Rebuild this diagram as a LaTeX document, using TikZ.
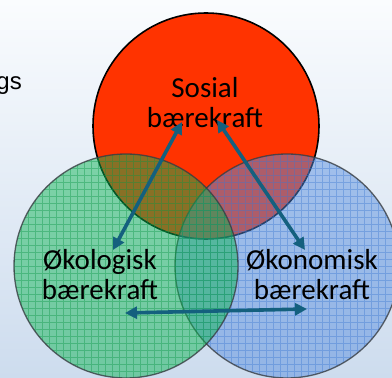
\documentclass[tikz,border=0pt]{standalone}
\usepackage{fontspec}
\setmainfont{Carlito}
\newfontfamily\arialfont{Liberation Sans}
\usetikzlibrary{arrows.meta}
\definecolor{bgtop}{RGB}{250,252,254}
\definecolor{bgbot}{RGB}{205,220,238}
\definecolor{redfill}{RGB}{255,51,0}
\definecolor{greenfill}{RGB}{10,180,80}
\definecolor{greenline}{RGB}{10,150,70}
\definecolor{bluefill}{RGB}{85,140,222}
\definecolor{blueline}{RGB}{60,120,210}
\definecolor{arrowcol}{RGB}{20,96,126}
\definecolor{ringcol}{RGB}{55,60,65}
\tikzset{
  circlabel/.style={font=\fontsize{29}{30}\selectfont, align=center, text=black, inner sep=0pt},
  conn/.style={draw=arrowcol, line width=3.6pt, {Triangle[length=12pt,width=12pt]}-{Triangle[length=12pt,width=12pt]}},
}
\begin{document}
\begin{tikzpicture}[x=1pt,y=1pt]
\useasboundingbox (0,0) rectangle (392,378);
\clip (0,0) rectangle (392,378);
\shade[shading angle=160, top color=bgtop, bottom color=bgbot] (0,0) rectangle (392,378);
% partial text at left
\node[anchor=base east, inner sep=0pt, font=\arialfont\fontsize{24}{28}\selectfont] (txt1) at (22,288) {gs};
\node[anchor=base east, inner sep=0pt, font=\arialfont\fontsize{24}{28}\selectfont] (txt0) at (21,383) {g};
% red circle
\fill[redfill] (206,252) circle (113);
\draw[black, line width=1.6pt] (206,252) circle (113);
% blue circle
\begin{scope}
  \clip (287,112) circle (112);
  \fill[bluefill, fill opacity=0.48] (287,112) circle (112);
  \draw[blueline, opacity=0.4, line width=0.8pt, step=7pt] (170,0) grid (400,230);
\end{scope}
\draw[ringcol, line width=1.3pt, opacity=0.8] (287,112) circle (112);
% green circle
\begin{scope}
  \clip (126,112) circle (112);
  \fill[greenfill, fill opacity=0.48] (126,112) circle (112);
  \draw[greenline, opacity=0.4, line width=0.8pt, step=7pt] (10,0) grid (240,230);
\end{scope}
\draw[ringcol, line width=1.3pt, opacity=0.8] (126,112) circle (112);
% labels
\node[circlabel] (sos) at (205,275) {Sosial\\bærekraft};
\node[circlabel] (oko) at (100,103) {Økologisk\\bærekraft};
\node[circlabel] (okn) at (312,103) {Økonomisk\\bærekraft};
% arrow end points
\coordinate (a1s) at (182,256);
\coordinate (a1e) at (113,128);
\coordinate (a2s) at (217,258);
\coordinate (a2e) at (305,128);
\coordinate (a3s) at (125,65);
\coordinate (a3e) at (307,69);
\draw[conn] (a1s) -- (a1e);
\draw[conn] (a2s) -- (a2e);
\draw[conn] (a3s) -- (a3e);
\end{tikzpicture}
\end{document}
